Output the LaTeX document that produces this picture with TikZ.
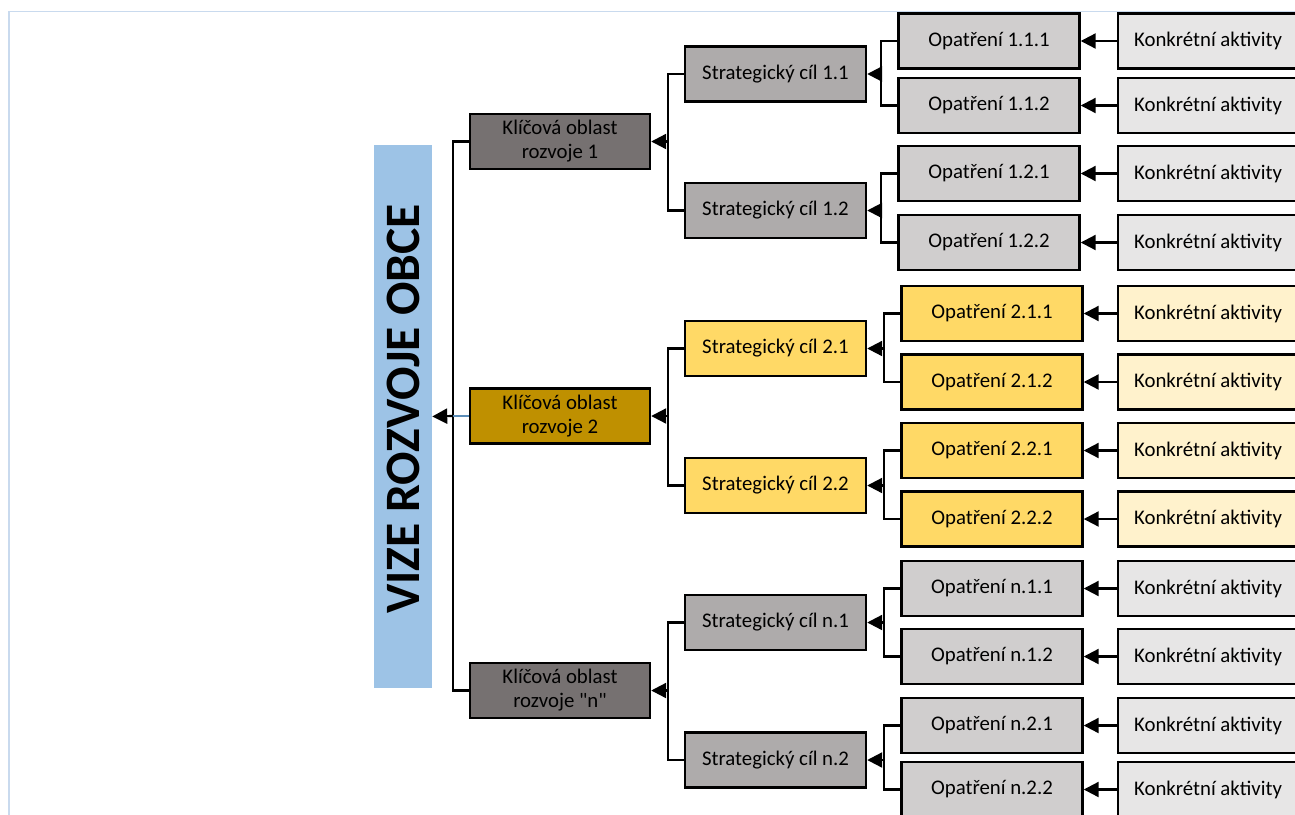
\documentclass[tikz,border=0pt]{standalone}
\usepackage{fontspec}
\setmainfont{Carlito}
\usetikzlibrary{arrows.meta}
\definecolor{kogray}{HTML}{767171}
\definecolor{kogold}{HTML}{BF9000}
\definecolor{scgray}{HTML}{AEABAB}
\definecolor{scyel}{HTML}{FFD966}
\definecolor{opgray}{HTML}{D0CECE}
\definecolor{opyel}{HTML}{FFD966}
\definecolor{kagray}{HTML}{E7E6E6}
\definecolor{kayel}{HTML}{FFF2CC}
\definecolor{barblue}{HTML}{9DC3E6}
\definecolor{frameblue}{HTML}{C9DAEE}
\definecolor{stubblue}{HTML}{5B8DB8}
\begin{document}
\begin{tikzpicture}[x=1pt,y=-1pt,
  box/.style={draw=black, line width=2.4pt, minimum width=180pt, minimum height=55pt, inner sep=0pt, align=center, font=\fontsize{20.8}{24}\selectfont},
  conn/.style={line width=2.2pt, draw=black},
  arr/.style={conn, -{Triangle[length=15pt,width=15pt]}},
  ko/.style={box, fill=kogray},
  ko2/.style={box, fill=kogold},
  sc/.style={box, minimum width=181pt, fill=scgray},
  sc2/.style={box, minimum width=181pt, fill=scyel},
  op/.style={box, minimum width=181pt, fill=opgray},
  op2/.style={box, minimum width=181pt, fill=opyel},
  ka/.style={box, fill=kagray},
  ka2/.style={box, fill=kayel},
]
\useasboundingbox (0,0) rectangle (1295,814);
\begin{scope}
\clip (0,0) rectangle (1295,814);
% frame
\draw[frameblue, line width=1.6pt] (9,830) -- (9,11.5) -- (1310,11.5);
% vision bar
\node[fill=barblue, minimum width=58pt, minimum height=543pt, inner sep=0pt] (vis) at (403,416.5) {};
\node[rotate=90, font=\bfseries\fontsize{49.5}{55}\selectfont, inner sep=0pt] (vistext) at (403,409) {VIZE ROZVOJE OBCE};
% key areas
\node[ko] (ko1) at (560,141.5) {Klíčová oblast\\rozvoje 1};
\node[ko2] (ko2) at (560,416) {Klíčová oblast\\rozvoje 2};
\node[ko] (kon) at (560,690.5) {Klíčová oblast\\rozvoje \textquotedbl n\textquotedbl};
% strategic goals
\node[sc] (sc11) at (775.5,74) {Strategický cíl 1.1};
\node[sc] (sc12) at (775.5,210.5) {Strategický cíl 1.2};
\node[sc2] (sc21) at (775.5,348.5) {Strategický cíl 2.1};
\node[sc2] (sc22) at (775.5,485.5) {Strategický cíl 2.2};
\node[sc] (scn1) at (775.5,622.5) {Strategický cíl n.1};
\node[sc] (scn2) at (775.5,760) {Strategický cíl n.2};
% measures
\node[op] (op111) at (989,41) {Opatření 1.1.1};
\node[op] (op112) at (989,105.5) {Opatření 1.1.2};
\node[op] (op121) at (989,173.5) {Opatření 1.2.1};
\node[op] (op122) at (989,242.5) {Opatření 1.2.2};
\node[op2] (op211) at (992,313.5) {Opatření 2.1.1};
\node[op2] (op212) at (992,382) {Opatření 2.1.2};
\node[op2] (op221) at (992,450.5) {Opatření 2.2.1};
\node[op2] (op222) at (992,519) {Opatření 2.2.2};
\node[op] (opn11) at (992,588.5) {Opatření n.1.1};
\node[op] (opn12) at (992,656.5) {Opatření n.1.2};
\node[op] (opn21) at (992,725.5) {Opatření n.2.1};
\node[op] (opn22) at (992,789.5) {Opatření n.2.2};
% activities
\foreach \n/\y/\s in {111/41/ka,112/105.5/ka,121/173.5/ka,122/242.5/ka,211/313.5/ka2,212/382/ka2,221/450.5/ka2,222/519/ka2,n11/588.5/ka,n12/656.5/ka,n21/725.5/ka,n22/789.5/ka}{
  \node[\s] (ka\n) at (1208,\y) {Konkrétní aktivity};
  \draw[arr] (ka\n.west) -- (op\n.east);
}
% level 1 -> vision
\coordinate (j0) at (453,416);
\draw[conn] (ko1.west) -| (j0) |- (kon.west);
\draw[line width=2.2pt, stubblue] (ko2.west) -- (j0);
\draw[arr] (j0) -- (vis.east);
% level 2 -> level 1
\coordinate (j1) at (668,141.5);
\coordinate (j2) at (668,416);
\coordinate (jn) at (668,690.5);
\draw[conn] (sc11.west) -| (j1) |- (sc12.west);
\draw[arr] (j1) -- (ko1.east);
\draw[conn] (sc21.west) -| (j2) |- (sc22.west);
\draw[arr] (j2) -- (ko2.east);
\draw[conn] (scn1.west) -| (jn) |- (scn2.west);
\draw[arr] (jn) -- (kon.east);
% level 3 -> level 2
\coordinate (j11) at (881,74);
\coordinate (j12) at (881,210.5);
\coordinate (j21) at (884,348.5);
\coordinate (j22) at (884,485.5);
\coordinate (jn1) at (884,622.5);
\coordinate (jn2) at (884,760);
\draw[conn] (op111.west) -| (j11) |- (op112.west);
\draw[arr] (j11) -- (sc11.east);
\draw[conn] (op121.west) -| (j12) |- (op122.west);
\draw[arr] (j12) -- (sc12.east);
\draw[conn] (op211.west) -| (j21) |- (op212.west);
\draw[arr] (j21) -- (sc21.east);
\draw[conn] (op221.west) -| (j22) |- (op222.west);
\draw[arr] (j22) -- (sc22.east);
\draw[conn] (opn11.west) -| (jn1) |- (opn12.west);
\draw[arr] (jn1) -- (scn1.east);
\draw[conn] (opn21.west) -| (jn2) |- (opn22.west);
\draw[arr] (jn2) -- (scn2.east);
\end{scope}
\end{tikzpicture}
\end{document}
